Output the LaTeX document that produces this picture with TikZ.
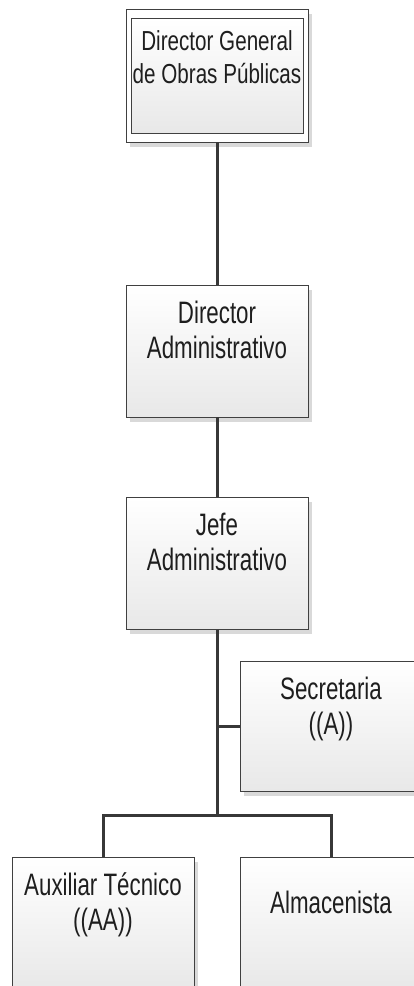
\documentclass[tikz,border=0pt]{standalone}
\usepackage{fontspec}
\setmainfont[FakeStretch=0.72]{Liberation Sans}
\newfontfamily\smallfam[FakeStretch=0.75]{Liberation Sans}
\usetikzlibrary{shadows}
\definecolor{linec}{HTML}{383838}
\definecolor{boxb}{HTML}{404040}
\definecolor{txt}{HTML}{1E1E1E}
\begin{document}
\begin{tikzpicture}[x=1pt,y=1pt,
  shadowed/.style={drop shadow={shadow xshift=4pt, shadow yshift=-5pt, fill=black!15, opacity=1}},
  box/.style={draw=boxb, line width=0.9pt, minimum width=182pt, minimum height=132pt,
    inner sep=0pt, shading=axis, top color=white, bottom color=black!9, shadowed},
  outerbox/.style={draw=boxb, line width=0.9pt, minimum width=182pt, minimum height=133pt,
    inner sep=0pt, fill=white, shadowed},
  innerbox/.style={draw=boxb, line width=0.9pt, minimum width=172pt, minimum height=115pt,
    inner sep=0pt, shading=axis, top color=white, bottom color=black!9},
  lbl/.style={align=center, text=txt, font=\fontsize{31}{35}\selectfont, inner sep=0pt,
    execute at begin node=\strut, execute at end node=\strut},
  lblsmall/.style={lbl, font=\smallfam\fontsize{27.5}{33}\selectfont},
  conn/.style={draw=linec, line width=3pt}]
\useasboundingbox (0,0) rectangle (414,986);
\clip (0,0) rectangle (414,986);

% boxes
\node[outerbox] (dg) at (217,910.5) {};
\node[innerbox] (dgi) at (dg.center) {};
\node[box] (da) at (217,635) {};
\node[box] (ja) at (217,422.5) {};
\node[box, minimum height=130pt] (sec) at (331,259.5) {};
\node[box] (aux) at (103,63) {};
\node[box] (alm) at (331,63) {};

% labels
\node[lblsmall] (tdg) at ([yshift=-53pt]dg.north) {Director General\\de Obras Públicas};
\node[lbl] (tda) at ([yshift=-50pt]da.north) {Director\\Administrativo};
\node[lbl] (tja) at ([yshift=-50pt]ja.north) {Jefe\\Administrativo};
\node[lbl] (tsec) at ([yshift=-50pt]sec.north) {Secretaria\\((A))};
\node[lbl] (taux) at ([yshift=-50pt]aux.north) {Auxiliar Técnico\\((AA))};
\node[lbl] (talm) at ([yshift=-50pt]alm.north) {Almacenista};

% connectors
\coordinate (bus) at (217,170);
\draw[conn] (dg.south) -- (da.north);
\draw[conn] (da.south) -- (ja.north);
\draw[conn] (ja.south) -- (bus);
\draw[conn] (sec.west) -- (sec.west -| ja.south);
\draw[conn] (aux.north) |- (bus) -| (alm.north);
\end{tikzpicture}
\end{document}
